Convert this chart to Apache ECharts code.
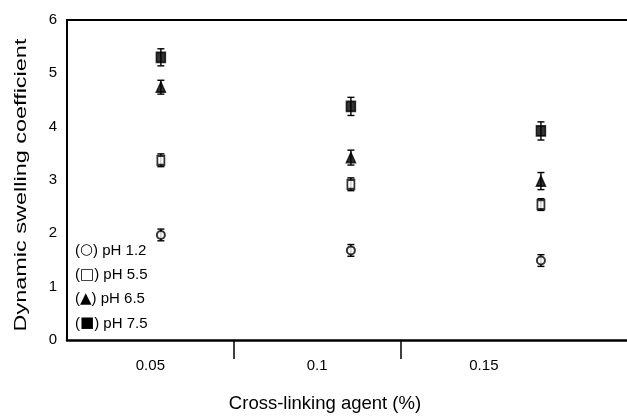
<!DOCTYPE html>
<html>
<head>
<meta charset="utf-8">
<script src="https://cdn.jsdelivr.net/npm/echarts@6/dist/echarts.min.js"></script>
<style>
  html, body { margin: 0; padding: 0; background: #fff; }
  #chart { width: 627px; height: 418px; }
</style>
</head>
<body>
<div id="chart"></div>
<script>
// Cross-linking agent concentrations (%) and their axis labels
const categories = ['0.05', '0.1', '0.15'];
const doses = [0.05, 0.1, 0.15];

// Dynamic swelling coefficient (mean) and error (±) per pH
const ph12 = [1.97, 1.68, 1.49];
const ph12Err = [0.11, 0.11, 0.11];
const ph55 = [3.37, 2.92, 2.54];
const ph55Err = [0.12, 0.12, 0.11];
const ph65 = [4.74, 3.42, 2.98];
const ph65Err = [0.13, 0.14, 0.16];
const ph75 = [5.30, 4.38, 3.92];
const ph75Err = [0.16, 0.17, 0.17];

const yTicks = [0, 1, 2, 3, 4, 5, 6];

const groups = [
  { name: 'pH 1.2', values: ph12, errors: ph12Err, symbol: 'emptyCircle', size: 8, glyph: '○' },
  { name: 'pH 5.5', values: ph55, errors: ph55Err, symbol: 'emptyRect', size: [7, 9], glyph: '□' },
  { name: 'pH 6.5', values: ph65, errors: ph65Err, symbol: 'triangle', size: [9, 10], glyph: '▲' },
  { name: 'pH 7.5', values: ph75, errors: ph75Err, symbol: 'rect', size: [9, 10], glyph: '■' }
];

const FONT = 'Liberation Sans, Arial, sans-serif';

const chart = echarts.init(document.getElementById('chart'), null, { renderer: 'canvas' });

// Vertical error bar with short caps, drawn in data coordinates
function errorBar(params, api) {
  const x = api.value(0);
  const lo = api.coord([x, api.value(1)]);
  const hi = api.coord([x, api.value(2)]);
  const half = 3.5;
  const style = { stroke: '#000', lineWidth: 1.4 };
  return {
    type: 'group',
    children: [
      { type: 'line', shape: { x1: lo[0], y1: lo[1], x2: hi[0], y2: hi[1] }, style },
      { type: 'line', shape: { x1: lo[0] - half, y1: lo[1], x2: lo[0] + half, y2: lo[1] }, style },
      { type: 'line', shape: { x1: hi[0] - half, y1: hi[1], x2: hi[0] + half, y2: hi[1] }, style }
    ]
  };
}

const series = [];
groups.forEach(g => {
  series.push({
    type: 'custom',
    name: g.name + ' error',
    xAxisIndex: 1,
    yAxisIndex: 0,
    renderItem: errorBar,
    encode: { x: 0, y: [1, 2] },
    data: doses.map((d, i) => [d, g.values[i] - g.errors[i], g.values[i] + g.errors[i]]),
    silent: true,
    z: 2
  });
});
groups.forEach(g => {
  series.push({
    type: 'scatter',
    name: g.name,
    xAxisIndex: 1,
    yAxisIndex: 0,
    symbol: g.symbol,
    symbolSize: g.size,
    itemStyle: { color: '#000', borderColor: '#000', borderWidth: 1.6 },
    data: doses.map((d, i) => [d, g.values[i]]),
    z: 3
  });
});

const glyphOf = {};
groups.forEach(g => { glyphOf[g.name] = g.glyph; });

chart.setOption({
  animation: false,
  backgroundColor: '#fff',
  textStyle: { fontFamily: FONT, color: '#000' },
  title: {
    text: 'Cross-linking agent (%)',
    left: 325,
    top: 394,
    textAlign: 'center',
    padding: 0,
    textStyle: { fontFamily: FONT, fontSize: 18.5, fontWeight: 'normal', color: '#000' }
  },
  // y-axis title, stretched along its length
  graphic: [{
    type: 'text',
    x: 21,
    y: 185,
    rotation: Math.PI / 2,
    scaleX: 1.34,
    scaleY: 0.95,
    style: {
      text: 'Dynamic swelling coefficient',
      fontFamily: FONT,
      fontSize: 17.5,
      fill: '#000',
      align: 'center',
      verticalAlign: 'middle'
    }
  }],
  legend: {
    data: groups.map(g => g.name),
    orient: 'vertical',
    left: 70,
    top: 243,
    padding: 0,
    icon: 'none',
    itemWidth: 0,
    itemHeight: 14,
    itemGap: 9.3,
    selectedMode: false,
    formatter: name => '({g|' + glyphOf[name] + '}) ' + name,
    textStyle: {
      fontFamily: FONT, fontSize: 15, color: '#000',
      rich: { g: { fontFamily: 'DejaVu Sans', fontSize: 15, color: '#000' } }
    }
  },
  grid: { left: 67, top: 20, width: 667, bottom: 78, outerBoundsMode: 'none' },
  xAxis: [
    {
      // category axis carrying the concentration labels and band ticks
      type: 'category',
      position: 'bottom',
      data: categories.concat(['']),
      boundaryGap: true,
      axisLine: { show: true, lineStyle: { color: '#000', width: 2.5 } },
      axisTick: {
        show: true,
        interval: idx => idx === 1 || idx === 2,
        length: 19,
        lineStyle: { color: '#000', width: 1.5 }
      },
      axisLabel: { interval: 0, margin: 18, fontSize: 15, color: '#000', fontFamily: FONT },
      splitLine: { show: false }
    },
    {
      // numeric scale used to place the measurements; its line forms the top frame
      type: 'value',
      position: 'top',
      min: 0.0253,
      max: 0.2008,
      axisLine: { show: true, onZero: false, lineStyle: { color: '#000', width: 2 } },
      axisTick: { show: false },
      axisLabel: { show: false },
      splitLine: { show: false }
    }
  ],
  yAxis: {
    type: 'value',
    min: yTicks[0],
    max: yTicks[yTicks.length - 1],
    interval: 1,
    axisLine: { show: true, lineStyle: { color: '#000', width: 2 } },
    axisTick: { show: false },
    axisLabel: { margin: 10, fontSize: 15, color: '#000', fontFamily: FONT },
    splitLine: { show: false }
  },
  series
});
</script>
</body>
</html>
